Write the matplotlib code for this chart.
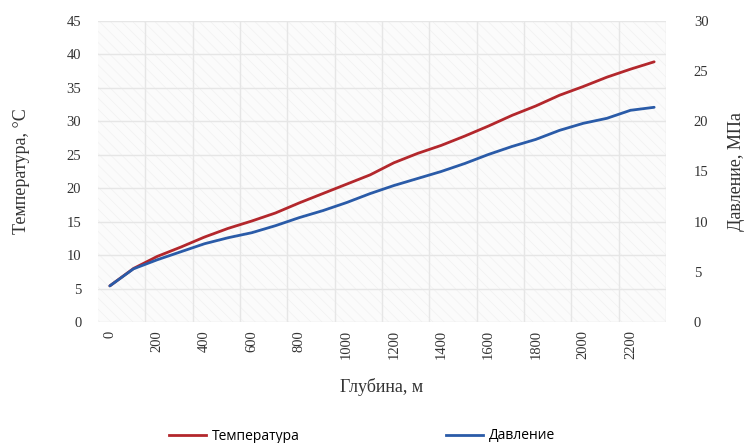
import matplotlib
matplotlib.use("Agg")
import matplotlib.pyplot as plt
from matplotlib.patches import Rectangle
from matplotlib.lines import Line2D

# Depth categories (m) and measured profiles
depth = [0, 100, 200, 300, 400, 500, 600, 700, 800, 900, 1000, 1100,
         1200, 1300, 1400, 1500, 1600, 1700, 1800, 1900, 2000, 2100, 2200, 2300]
temperature = [5.4, 8.0, 9.8, 11.2, 12.7, 14.0, 15.1, 16.3, 17.8, 19.2, 20.6, 22.0,
               23.8, 25.2, 26.4, 27.8, 29.3, 30.9, 32.3, 33.9, 35.2, 36.6, 37.8, 38.9]
pressure = [3.6, 5.3, 6.2, 7.0, 7.8, 8.4, 8.9, 9.6, 10.4, 11.1, 11.9, 12.8,
            13.6, 14.3, 15.0, 15.8, 16.7, 17.5, 18.2, 19.1, 19.8, 20.3, 21.1, 21.4]

temp_ticks = [0, 5, 10, 15, 20, 25, 30, 35, 40, 45]
press_ticks = [0, 5, 10, 15, 20, 25, 30]

RED = "#B3272C"
BLUE = "#2A5BA8"
TEXT = "#333333"
SERIF = "Liberation Serif"

plt.rcParams["hatch.linewidth"] = 0.5

W, H = 752, 443
fig = plt.figure(figsize=(W / 100, H / 100), dpi=100)
ax = fig.add_axes([98 / W, 1 - 322 / H, (666 - 98) / W, (322 - 21) / H])
ax2 = ax.twinx()

n = len(depth)
pos = list(range(n))

# lightly textured plot background
ax.set_facecolor("#fbfbfb")
ax.add_patch(Rectangle((0, 0), 1, 1, transform=ax.transAxes, facecolor="none",
                       edgecolor="#f1f1f1", hatch="\\\\\\", linewidth=0, zorder=0))

ax.set_xlim(-0.5, n - 0.5)
ax.set_ylim(0, 45)
ax2.set_ylim(0, 30)

# gridlines: horizontal at every left-axis tick, vertical between label groups
for t in temp_ticks:
    ax.axhline(t, color="#e6e6e6", lw=1.0, zorder=1)
for k in range(1, n // 2 + 1):
    ax.axvline(2 * k - 0.5, color="#e6e6e6", lw=1.0, zorder=1)

ax.plot(pos, temperature, color=RED, lw=2.0, zorder=3, solid_capstyle="round")
ax2.plot(pos, pressure, color=BLUE, lw=2.0, zorder=4, solid_capstyle="round")
ax2.set_zorder(ax.get_zorder() + 1)
ax2.patch.set_visible(False)

ax.set_xticks(pos[::2])
ax.set_xticklabels([str(d) for d in depth[::2]], rotation=90,
                   fontfamily=SERIF, fontsize=10.5)
ax.set_yticks(temp_ticks)
ax.set_yticklabels([str(t) for t in temp_ticks], fontfamily=SERIF, fontsize=10.5)
ax2.set_yticks(press_ticks)
ax2.set_yticklabels([str(t) for t in press_ticks], fontfamily=SERIF, fontsize=10.5)

ax.tick_params(axis="both", length=0, colors=TEXT)
ax.tick_params(axis="x", pad=6)
ax.tick_params(axis="y", pad=12)
ax2.tick_params(axis="y", length=0, colors=TEXT, pad=20)

for a in (ax, ax2):
    for s in a.spines.values():
        s.set_visible(False)

ax.set_xlabel("Глубина, м", fontfamily=SERIF, fontsize=13, color=TEXT, labelpad=13)
ax.set_ylabel("Температура, °С", fontfamily=SERIF, fontsize=13, color=TEXT, labelpad=26)
ax2.set_ylabel("Давление, МПа", fontfamily=SERIF, fontsize=13, color=TEXT,
               rotation=90, labelpad=14)

handles = [Line2D([], [], color=RED, lw=2.0), Line2D([], [], color=BLUE, lw=2.0)]
fig.legend(handles, ["Температура", "Давление"], loc="center",
           bbox_to_anchor=(362 / W, 1 - 436 / H), ncol=2, frameon=False,
           prop={"family": "Open Sans", "size": 10}, handlelength=2.7,
           handletextpad=0.4, columnspacing=10.5)

fig.savefig("out.png", dpi=100)
